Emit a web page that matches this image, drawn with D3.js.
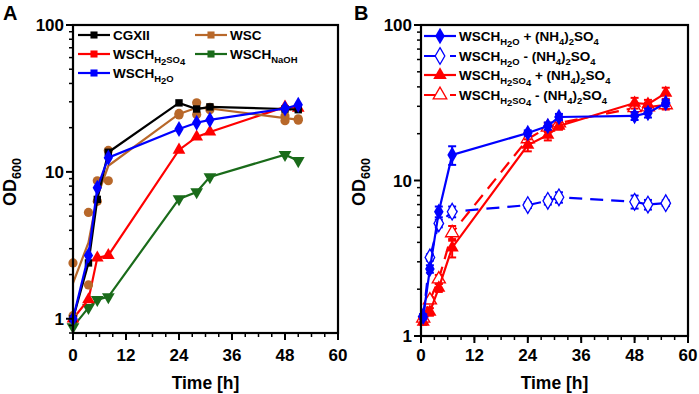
<!DOCTYPE html>
<html>
<head lang="en">
<meta charset="UTF-8">
<script src="https://cdn.jsdelivr.net/npm/d3@7"></script>
<style>
  body { margin: 0; background: #fff; }
  svg { font-family: 'Liberation Sans', Arial, sans-serif; font-weight: bold; }
</style>
</head>
<body>
<svg width="699" height="394"></svg>
<script>
// ---- panel A data (OD600 vs time) ----
var timesA = [0, 3.5, 5.5, 8, 24, 28, 31, 48, 51];
var cgxii = [1.0, 2.4, 6.5, 13.6, 29.5, 26.8, 27.7, 26.8, 26.5];
var wscMean = [1.75, 3.3, 6.8, 11, 24.8, 27.3, 27, 23.2, 22.7];
var wscRep1 = [2.4, 5.3, 8.7, 8.7, 24.4, 29.5, 26.5, 24, 22.5];
var wscRep2 = [1.05, 1.7, 6.3, 14, 25, 24.6, 27.5, 22.3, 23];
var wschH2SO4A = [1.0, 1.35, 2.6, 2.7, 14.1, 17.3, 18.7, 27.7, 27.2];
var wschNaOH = [0.88, 1.19, 1.35, 1.41, 6.55, 7.3, 9.25, 13.1, 11.9];
var wschH2OA = [1.0, 2.7, 7.8, 12.5, 19.6, 21.6, 22.6, 27, 28.6];

// ---- panel B data ----
var timesB = [0.5, 2, 4, 7, 24, 28.5, 31, 48, 51, 55];
var h2oPlus = [1.33, 2.7, 6.3, 14.6, 20.2, 22.4, 25.6, 26, 27.2, 31.5];
var h2oPlusErr = [0.05, 0.15, 0.5, 2.0, 0.8, 1.2, 1.2, 1.5, 1.8, 1.5];
var h2oMinus = [1.33, 3.2, 5.3, 6.3, 6.95, 7.4, 7.8, 7.3, 7.0, 7.15];
var h2oMinusErr = [0.05, 0.15, 0.3, 0.5, 0.3, 0.4, 0.6, 0.7, 0.5, 0.3];
var h2so4Plus = [1.23, 1.43, 2.04, 3.7, 16.9, 19.6, 22.4, 31.5, 31, 36.5];
var h2so4PlusErr = [0.05, 0.08, 0.12, 0.5, 1.5, 1.5, 1.2, 2.5, 2, 3];
var h2so4Minus = [1.3, 1.7, 2.32, 4.6, 18.5, 22, 23.4, 29.3, 29.7, 30.6];
var h2so4MinusErr = [0.05, 0.08, 0.15, 0.5, 2.0, 1.5, 1.2, 2, 2, 2];

var xTicks = [0, 12, 24, 36, 48, 60];
var yTicks = [1, 10, 100];

var colors = {
    BLACK: '#000000',
    ORANGE: '#b8682a',
    RED: '#ff0000',
    BLUE: '#0000ff',
    GREEN: '#1a6b1a'
};

var svg = d3.select('svg');

function richText(sel, parts, size) {
    var cur = 0;
    parts.forEach(function (p) {
        var off = p[1] === 0 ? 0 : (p[1] === 1 ? size * 0.3 : size * 0.48);
        var fs = p[1] === 0 ? size : size * 0.7;
        sel.append('tspan').attr('dy', off - cur).attr('font-size', fs).text(p[0]);
        cur = off;
    });
}

function drawFrame(g, x, y, yLabelX, letter) {
    var x0 = x.range()[0], x1 = x.range()[1], y0 = y.range()[0], y1 = y.range()[1];
    var ydom = y.domain();
    // minor y ticks
    var minors = [];
    [0.1, 1, 10].forEach(function (d) {
        for (var k = 2; k <= 9; k++) {
            var v = d * k;
            if (v >= ydom[0] && v <= ydom[1]) minors.push(v);
        }
    });
    g.selectAll('.ymin').data(minors).enter().append('line')
        .attr('x1', x0).attr('x2', x0 - 4)
        .attr('y1', function (d) { return y(d); }).attr('y2', function (d) { return y(d); })
        .attr('stroke', '#000').attr('stroke-width', 1.5);
    g.selectAll('.ymaj').data(yTicks).enter().append('line')
        .attr('x1', x0).attr('x2', x0 - 7)
        .attr('y1', function (d) { return y(d); }).attr('y2', function (d) { return y(d); })
        .attr('stroke', '#000').attr('stroke-width', 2);
    g.selectAll('.ylab').data(yTicks).enter().append('text')
        .attr('x', x0 - 9).attr('y', function (d) { return y(d) + 6; })
        .attr('text-anchor', 'end').attr('font-size', 17).text(function (d) { return d; });
    // x ticks
    var xMinors = d3.range(0, 61, 3);
    g.selectAll('.xmin').data(xMinors).enter().append('line')
        .attr('x1', function (d) { return x(d); }).attr('x2', function (d) { return x(d); })
        .attr('y1', y0).attr('y2', y0 + 4)
        .attr('stroke', '#000').attr('stroke-width', 1.5);
    g.selectAll('.xmaj').data(xTicks).enter().append('line')
        .attr('x1', function (d) { return x(d); }).attr('x2', function (d) { return x(d); })
        .attr('y1', y0).attr('y2', y0 + 7)
        .attr('stroke', '#000').attr('stroke-width', 2);
    g.selectAll('.xlab').data(xTicks).enter().append('text')
        .attr('x', function (d) { return x(d); }).attr('y', 361)
        .attr('text-anchor', 'middle').attr('font-size', 17).text(function (d) { return d; });
    g.append('rect').attr('x', x0).attr('y', y1).attr('width', x1 - x0).attr('height', y0 - y1)
        .attr('fill', 'none').attr('stroke', '#000').attr('stroke-width', 2.2);
    g.append('text').attr('x', (x0 + x1) / 2).attr('y', 389).attr('text-anchor', 'middle')
        .attr('font-size', 17.5).text('Time [h]');
    var yl = g.append('text').attr('transform', 'translate(' + yLabelX + ',' + 182 + ') rotate(-90)')
        .attr('text-anchor', 'middle');
    richText(yl, [['OD', 0], ['600', 1]], 18);
    g.append('text').attr('x', letter[1]).attr('y', 20).attr('font-size', 20).text(letter[0]);
}

function symbolPath(type, size) {
    return d3.symbol().type(type).size(size)();
}

// ===== Panel A =====
var xA = d3.scaleLinear().domain([0, 60]).range([73, 338]);
var yA = d3.scaleLog().domain([0.8, 100]).range([333, 25]);
var gA = svg.append('g');

var lineA = d3.line()
    .x(function (d) { return xA(d[0]); })
    .y(function (d) { return yA(d[1]); });

var seriesA = [
    { vals: wschNaOH, color: colors.GREEN, sym: d3.symbolTriangle, rot: 180, size: 70 },
    { vals: wschH2SO4A, color: colors.RED, sym: d3.symbolTriangle, rot: 0, size: 70 },
    { vals: wscMean, color: colors.ORANGE, sym: null },
    { vals: cgxii, color: colors.BLACK, sym: d3.symbolSquare, rot: 0, size: 55 },
    { vals: wschH2OA, color: colors.BLUE, sym: d3.symbolDiamond, rot: 0, size: 75 }
];

seriesA.forEach(function (s) {
    var pts = timesA.map(function (t, i) { return [t, s.vals[i]]; });
    gA.append('path').attr('d', lineA(pts)).attr('fill', 'none')
        .attr('stroke', s.color).attr('stroke-width', 2.2);
    if (s.sym) {
        gA.selectAll(null).data(pts).enter().append('path')
            .attr('d', symbolPath(s.sym, s.size))
            .attr('transform', function (d) {
                return 'translate(' + xA(d[0]) + ',' + yA(d[1]) + ') rotate(' + s.rot + ')';
            })
            .attr('fill', s.color);
    } else {
        var reps = [];
        timesA.forEach(function (t, i) {
            reps.push([t, wscRep1[i]]);
            reps.push([t, wscRep2[i]]);
        });
        gA.selectAll(null).data(reps).enter().append('circle')
            .attr('cx', function (d) { return xA(d[0]); })
            .attr('cy', function (d) { return yA(d[1]); })
            .attr('r', 4.6).attr('fill', s.color);
    }
});

drawFrame(gA, xA, yA, 16, ['A', 3]);

// legend A
var legA = [
    { label: [['CGXII', 0]], color: colors.BLACK, x: 78, y: 35 },
    { label: [['WSC', 0]], color: colors.ORANGE, x: 195, y: 35 },
    { label: [['WSCH', 0], ['H', 1], ['2', 2], ['SO', 1], ['4', 2]], color: colors.RED, x: 78, y: 54 },
    { label: [['WSCH', 0], ['NaOH', 1]], color: colors.GREEN, x: 195, y: 54 },
    { label: [['WSCH', 0], ['H', 1], ['2', 2], ['O', 1]], color: colors.BLUE, x: 78, y: 73 }
];
legA.forEach(function (l) {
    gA.append('line').attr('x1', l.x).attr('x2', l.x + 32).attr('y1', l.y).attr('y2', l.y)
        .attr('stroke', l.color).attr('stroke-width', 2.2);
    gA.append('path').attr('d', symbolPath(d3.symbolSquare, 50))
        .attr('transform', 'translate(' + (l.x + 16) + ',' + l.y + ')').attr('fill', l.color);
    var t = gA.append('text').attr('x', l.x + 35).attr('y', l.y + 5);
    richText(t, l.label, 13.5);
});

// ===== Panel B =====
var xB = d3.scaleLinear().domain([0, 60]).range([421, 688]);
var yB = d3.scaleLog().domain([1, 100]).range([336, 25]);
var gB = svg.append('g');

var lineB = d3.line()
    .x(function (d) { return xB(d[0]); })
    .y(function (d) { return yB(d[1]); });

var seriesB = [
    { vals: h2oMinus, err: h2oMinusErr, color: colors.BLUE, sym: d3.symbolDiamond, rot: 0, size: 80, open: true },
    { vals: h2so4Minus, err: h2so4MinusErr, color: colors.RED, sym: d3.symbolTriangle, rot: 0, size: 75, open: true },
    { vals: h2so4Plus, err: h2so4PlusErr, color: colors.RED, sym: d3.symbolTriangle, rot: 0, size: 75, open: false },
    { vals: h2oPlus, err: h2oPlusErr, color: colors.BLUE, sym: d3.symbolDiamond, rot: 0, size: 80, open: false }
];

seriesB.forEach(function (s) {
    var pts = timesB.map(function (t, i) { return [t, s.vals[i], s.err[i]]; });
    gB.append('path').attr('d', lineB(pts)).attr('fill', 'none')
        .attr('stroke', s.color).attr('stroke-width', 2.2)
        .attr('stroke-dasharray', s.open ? '13,8' : null);
    var eb = gB.selectAll(null).data(pts).enter().append('g').attr('stroke', s.color).attr('stroke-width', 2);
    eb.append('line')
        .attr('x1', function (d) { return xB(d[0]); }).attr('x2', function (d) { return xB(d[0]); })
        .attr('y1', function (d) { return yB(d[1] + d[2]); }).attr('y2', function (d) { return yB(d[1] - d[2]); });
    eb.append('line')
        .attr('x1', function (d) { return xB(d[0]) - 4; }).attr('x2', function (d) { return xB(d[0]) + 4; })
        .attr('y1', function (d) { return yB(d[1] + d[2]); }).attr('y2', function (d) { return yB(d[1] + d[2]); });
    eb.append('line')
        .attr('x1', function (d) { return xB(d[0]) - 4; }).attr('x2', function (d) { return xB(d[0]) + 4; })
        .attr('y1', function (d) { return yB(d[1] - d[2]); }).attr('y2', function (d) { return yB(d[1] - d[2]); });
    gB.selectAll(null).data(pts).enter().append('path')
        .attr('d', symbolPath(s.sym, s.size))
        .attr('transform', function (d) {
            return 'translate(' + xB(d[0]) + ',' + yB(d[1]) + ')';
        })
        .attr('fill', s.open ? '#fff' : s.color)
        .attr('stroke', s.color).attr('stroke-width', s.open ? 1.3 : 0);
});

drawFrame(gB, xB, yB, 365, ['B', 354]);

// legend B
var legB = [
    { label: [['WSCH', 0], ['H', 1], ['2', 2], ['O', 1], [' + (NH', 0], ['4', 1], [')', 0], ['2', 1], ['SO', 0], ['4', 1]],
      color: colors.BLUE, sym: d3.symbolDiamond, open: false, y: 36 },
    { label: [['WSCH', 0], ['H', 1], ['2', 2], ['O', 1], [' - (NH', 0], ['4', 1], [')', 0], ['2', 1], ['SO', 0], ['4', 1]],
      color: colors.BLUE, sym: d3.symbolDiamond, open: true, y: 56 },
    { label: [['WSCH', 0], ['H', 1], ['2', 2], ['SO', 1], ['4', 2], [' + (NH', 0], ['4', 1], [')', 0], ['2', 1], ['SO', 0], ['4', 1]],
      color: colors.RED, sym: d3.symbolTriangle, open: false, y: 75 },
    { label: [['WSCH', 0], ['H', 1], ['2', 2], ['SO', 1], ['4', 2], [' - (NH', 0], ['4', 1], [')', 0], ['2', 1], ['SO', 0], ['4', 1]],
      color: colors.RED, sym: d3.symbolTriangle, open: true, y: 95 }
];
legB.forEach(function (l) {
    gB.append('line').attr('x1', 424).attr('x2', 456).attr('y1', l.y).attr('y2', l.y)
        .attr('stroke', l.color).attr('stroke-width', 2.2)
        .attr('stroke-dasharray', l.open ? '12,14' : null);
    gB.append('path').attr('d', symbolPath(l.sym, 80))
        .attr('transform', 'translate(440,' + l.y + ')')
        .attr('fill', l.open ? '#fff' : l.color)
        .attr('stroke', l.color).attr('stroke-width', l.open ? 1.3 : 0);
    var t = gB.append('text').attr('x', 459).attr('y', l.y + 5);
    richText(t, l.label, 13.5);
});
</script>
</body>
</html>
